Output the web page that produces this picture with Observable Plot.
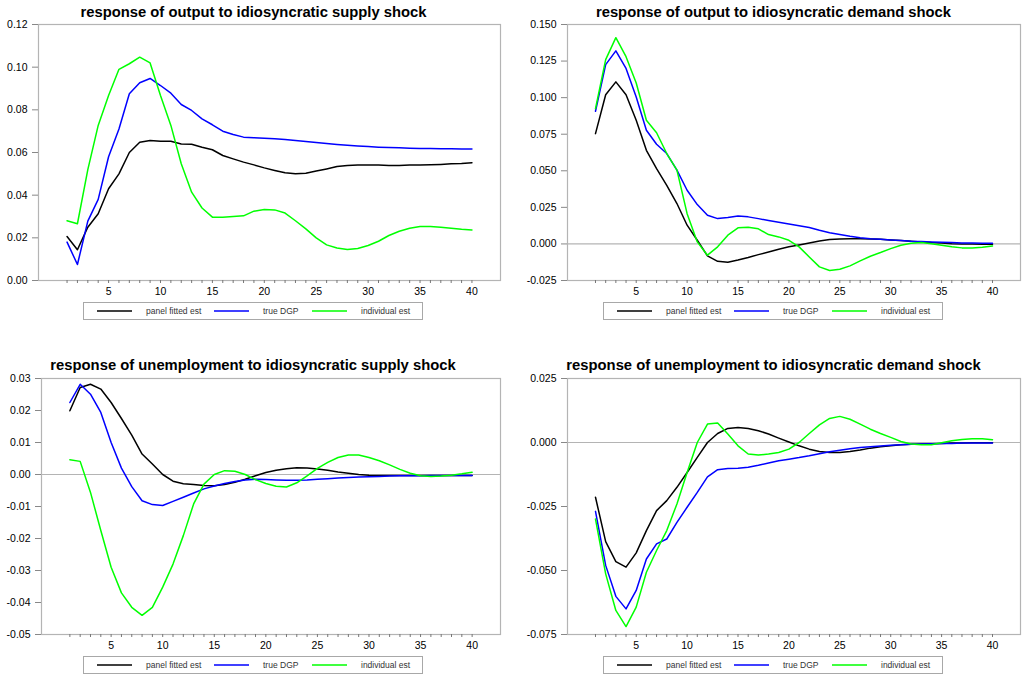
<!DOCTYPE html>
<html><head><meta charset="utf-8">
<script src="https://cdn.jsdelivr.net/npm/d3@7"></script>
<script src="https://cdn.jsdelivr.net/npm/@observablehq/plot@0.6"></script>
<style>
body{margin:0;background:#fff;font-family:"Liberation Sans",Arial,sans-serif;}
#root{position:relative;width:1024px;height:679px;overflow:hidden;background:#fff;}
.title{position:absolute;font-weight:bold;font-size:14.8px;line-height:18px;white-space:nowrap;transform:translateX(-50%);color:#000;}
.legend{position:absolute;width:340px;height:18px;border:1px solid #a8a8a8;box-sizing:border-box;background:#fff;}
.legend svg{position:absolute;left:0;top:0;}
.legend .tx{position:absolute;top:3px;font-size:8.5px;line-height:10px;color:#333;white-space:nowrap;}
.panel{position:absolute;}
</style>
</head><body><div id="root"></div>
<script>
const horizons = [1,2,3,4,5,6,7,8,9,10,11,12,13,14,15,16,17,18,19,20,21,22,23,24,25,26,27,28,29,30,31,32,33,34,35,36,37,38,39,40];
const xTickLabels = [5,10,15,20,25,30,35,40];
const seriesNames = ["panel fitted est","true DGP","individual est"];
const seriesColors = ["#000000","#0000ff","#00ff00"];

// response of output to idiosyncratic supply shock
const outSupplyPanel = [0.0206,0.0144,0.025,0.0313,0.043,0.050,0.060,0.0648,0.0656,0.0653,0.0653,0.064,0.0639,0.0625,0.0613,0.0586,0.057,0.0555,0.0542,0.0528,0.0516,0.0505,0.050,0.0503,0.0513,0.0523,0.0534,0.0539,0.0541,0.0541,0.0541,0.0539,0.0539,0.0541,0.0541,0.0542,0.0544,0.0547,0.0548,0.0552];
const outSupplyTrue = [0.018,0.0075,0.0278,0.038,0.058,0.071,0.0875,0.0927,0.0947,0.0914,0.0878,0.0825,0.0797,0.0758,0.073,0.070,0.0684,0.0672,0.0669,0.0667,0.0664,0.0661,0.0656,0.0652,0.0647,0.0642,0.0638,0.0634,0.0631,0.0628,0.0625,0.0623,0.0622,0.062,0.0619,0.0619,0.0617,0.0617,0.0616,0.0616];
const outSupplyIndiv = [0.028,0.0266,0.052,0.0727,0.0867,0.099,0.1016,0.1047,0.102,0.0867,0.0727,0.0547,0.0414,0.034,0.0297,0.0297,0.030,0.0303,0.0325,0.0333,0.0331,0.0316,0.028,0.0242,0.020,0.0167,0.0152,0.0145,0.015,0.0164,0.0184,0.0211,0.0231,0.0245,0.0253,0.0253,0.025,0.0245,0.024,0.0237];
const outSupplyTicks = [0,0.02,0.04,0.06,0.08,0.10,0.12];

// response of output to idiosyncratic demand shock
const outDemandPanel = [0.0754,0.102,0.1108,0.102,0.0845,0.064,0.0515,0.0401,0.0276,0.0128,0.0025,-0.0082,-0.0119,-0.0125,-0.011,-0.0093,-0.0073,-0.0055,-0.0036,-0.002,-0.0007,0.0007,0.002,0.003,0.0034,0.0036,0.0036,0.0034,0.0032,0.0027,0.0023,0.0018,0.0014,0.0009,0.0007,0.0002,0,0,-0.0002,-0.0002];
const outDemandTrue = [0.0907,0.1226,0.132,0.120,0.1005,0.0777,0.0681,0.0618,0.0504,0.0367,0.0269,0.0196,0.0173,0.018,0.0191,0.0185,0.0173,0.016,0.0148,0.0137,0.0125,0.0112,0.0093,0.0077,0.0064,0.0052,0.0043,0.0036,0.0032,0.0027,0.0023,0.0018,0.0016,0.0014,0.0011,0.0009,0.0007,0.0007,0.0005,0.0005];
const outDemandIndiv = [0.0925,0.126,0.141,0.128,0.110,0.0845,0.076,0.0618,0.0504,0.0207,0.0014,-0.0077,-0.002,0.006,0.011,0.0114,0.0103,0.0064,0.0048,0.0025,-0.002,-0.0089,-0.0157,-0.0182,-0.0173,-0.015,-0.0116,-0.0084,-0.0059,-0.0032,-0.0009,0.0005,0.0009,0.0002,-0.0009,-0.002,-0.0027,-0.0027,-0.0023,-0.0014];
const outDemandTicks = [-0.025,0,0.025,0.05,0.075,0.10,0.125,0.15];

// response of unemployment to idiosyncratic supply shock
const unSupplyPanel = [0.0199,0.0272,0.0282,0.0267,0.0225,0.0175,0.0123,0.0064,0.0033,0,-0.0021,-0.0029,-0.0031,-0.0034,-0.0035,-0.0031,-0.0024,-0.0015,-0.0004,0.0006,0.0013,0.0018,0.0021,0.002,0.0017,0.0013,0.0008,0.0004,0,-0.0002,-0.0003,-0.0003,-0.0003,-0.0003,-0.0003,-0.0003,-0.0003,-0.0003,-0.0003,-0.0003];
const unSupplyTrue = [0.0225,0.0282,0.0251,0.0194,0.010,0.002,-0.0038,-0.0082,-0.0094,-0.0097,-0.0084,-0.0071,-0.0058,-0.0045,-0.0036,-0.0028,-0.0022,-0.0017,-0.0015,-0.0016,-0.0017,-0.0018,-0.0018,-0.0017,-0.0015,-0.0013,-0.0011,-0.0009,-0.0008,-0.0007,-0.0006,-0.0005,-0.0004,-0.0004,-0.0004,-0.0003,-0.0003,-0.0003,-0.0003,-0.0003];
const unSupplyIndiv = [0.0046,0.0041,-0.0056,-0.0175,-0.029,-0.037,-0.0415,-0.044,-0.0415,-0.0352,-0.028,-0.0191,-0.0092,-0.003,0,0.0012,0.001,0,-0.0016,-0.0028,-0.0037,-0.0039,-0.0026,-0.0004,0.0019,0.0038,0.0053,0.0061,0.0061,0.0053,0.0043,0.003,0.0016,0.0004,-0.0004,-0.0006,-0.0005,-0.0002,0.0002,0.0007];
const unSupplyTicks = [-0.05,-0.04,-0.03,-0.02,-0.01,0,0.01,0.02,0.03];

// response of unemployment to idiosyncratic demand shock
const unDemandPanel = [-0.0214,-0.0387,-0.0465,-0.0487,-0.0431,-0.0344,-0.0266,-0.0227,-0.0175,-0.0117,-0.0058,0,0.0035,0.0055,0.0059,0.0055,0.0046,0.0033,0.0017,0.0002,-0.0013,-0.0026,-0.0035,-0.0039,-0.0039,-0.0035,-0.0029,-0.0022,-0.0017,-0.0013,-0.0009,-0.0007,-0.0006,-0.0005,-0.0004,-0.0002,-0.0002,-0.0001,-0.0001,-0.0001];
const unDemandTrue = [-0.0269,-0.048,-0.0601,-0.065,-0.0578,-0.0455,-0.0396,-0.0377,-0.0312,-0.0253,-0.0195,-0.0134,-0.0106,-0.0102,-0.0101,-0.0097,-0.0089,-0.008,-0.0071,-0.0065,-0.0059,-0.0052,-0.0044,-0.0036,-0.003,-0.0024,-0.002,-0.0017,-0.0014,-0.0011,-0.0009,-0.0007,-0.0006,-0.0005,-0.0004,-0.0004,-0.0002,-0.0002,-0.0002,-0.0002];
const unDemandIndiv = [-0.0299,-0.0513,-0.0656,-0.0719,-0.0643,-0.0507,-0.0422,-0.0344,-0.024,-0.0117,0,0.0072,0.0076,0.0033,-0.0013,-0.0045,-0.0049,-0.0045,-0.0039,-0.0026,0,0.0035,0.0069,0.0094,0.0102,0.0091,0.0072,0.0052,0.0035,0.002,0.0004,-0.0006,-0.0009,-0.0009,-0.0001,0.0007,0.0012,0.0015,0.0015,0.0011];
const unDemandTicks = [-0.075,-0.05,-0.025,0,0.025];

const panels = [
  {title:"response of output to idiosyncratic supply shock", left:0, top:20, ml:38, mr:12, titleX:253.5, titleY:3,
   series:[outSupplyPanel,outSupplyTrue,outSupplyIndiv], ticks:outSupplyTicks, dec:2, zero:false, legendLeft:83, legendTop:302},
  {title:"response of output to idiosyncratic demand shock", left:512, top:20, ml:55, mr:4, titleX:773.5, titleY:3,
   series:[outDemandPanel,outDemandTrue,outDemandIndiv], ticks:outDemandTicks, dec:3, zero:true, legendLeft:603, legendTop:302},
  {title:"response of unemployment to idiosyncratic supply shock", left:0, top:374, ml:41, mr:12, titleX:253, titleY:356,
   series:[unSupplyPanel,unSupplyTrue,unSupplyIndiv], ticks:unSupplyTicks, dec:2, zero:true, legendLeft:83, legendTop:656},
  {title:"response of unemployment to idiosyncratic demand shock", left:512, top:374, ml:55, mr:4, titleX:773.5, titleY:356,
   series:[unDemandPanel,unDemandTrue,unDemandIndiv], ticks:unDemandTicks, dec:3, zero:true, legendLeft:603, legendTop:656}
];

const root = document.getElementById("root");
const gray = "#b4b4b4";
const svgNS = "http://www.w3.org/2000/svg";

panels.forEach(p => {
  const t = document.createElement("div");
  t.className = "title";
  t.textContent = p.title;
  t.style.left = p.titleX + "px";
  t.style.top = p.titleY + "px";
  root.appendChild(t);

  const lo = p.ticks[0], hi = p.ticks[p.ticks.length - 1];
  const marks = [];
  if (p.zero) marks.push(Plot.ruleY([0], {stroke: gray, strokeWidth: 1.2}));
  marks.push(Plot.frame({stroke: gray, strokeWidth: 1.2}));
  marks.push(Plot.axisY(p.ticks, {label: null, tickSize: 6, tickPadding: 5, stroke: "#888", fill: "#000", tickFormat: d => d.toFixed(p.dec)}));
  marks.push(Plot.axisX(horizons, {label: null, tickSize: 3, tickPadding: 4, stroke: "#777", fill: "#000", tickFormat: d => xTickLabels.includes(d) ? String(d) : ""}));
  p.series.forEach((vals, i) => {
    const rows = horizons.map((h, j) => ({h, v: vals[j]}));
    marks.push(Plot.line(rows, {x: "h", y: "v", stroke: seriesColors[i], strokeWidth: 1.5}));
  });

  const svg = Plot.plot({
    width: 512, height: 282,
    marginTop: 4, marginBottom: 22, marginLeft: p.ml, marginRight: p.mr,
    x: {domain: [-1.75, 42.75], axis: null},
    y: {domain: [lo, hi], axis: null},
    style: {fontFamily: '"Liberation Sans", Arial, sans-serif', fontSize: "10.5px", background: "white", overflow: "visible"},
    marks
  });
  const wrap = document.createElement("div");
  wrap.className = "panel";
  wrap.style.left = p.left + "px";
  wrap.style.top = p.top + "px";
  wrap.appendChild(svg);
  root.appendChild(wrap);

  const lg = document.createElement("div");
  lg.className = "legend";
  lg.style.left = p.legendLeft + "px";
  lg.style.top = p.legendTop + "px";
  const lsvg = document.createElementNS(svgNS, "svg");
  lsvg.setAttribute("width", "338");
  lsvg.setAttribute("height", "16");
  const lineOff = [14, 131, 229], textOff = [63, 180, 278];
  seriesNames.forEach((n, i) => {
    const ln = document.createElementNS(svgNS, "line");
    ln.setAttribute("x1", lineOff[i] - 1);
    ln.setAttribute("x2", lineOff[i] + 34);
    ln.setAttribute("y1", 8);
    ln.setAttribute("y2", 8);
    ln.setAttribute("stroke", seriesColors[i]);
    ln.setAttribute("stroke-width", 1.6);
    lsvg.appendChild(ln);
    const tx = document.createElement("div");
    tx.className = "tx";
    tx.style.left = (textOff[i] - 1) + "px";
    tx.textContent = n;
    lg.appendChild(tx);
  });
  lg.appendChild(lsvg);
  root.appendChild(lg);
});
</script>
</body></html>
